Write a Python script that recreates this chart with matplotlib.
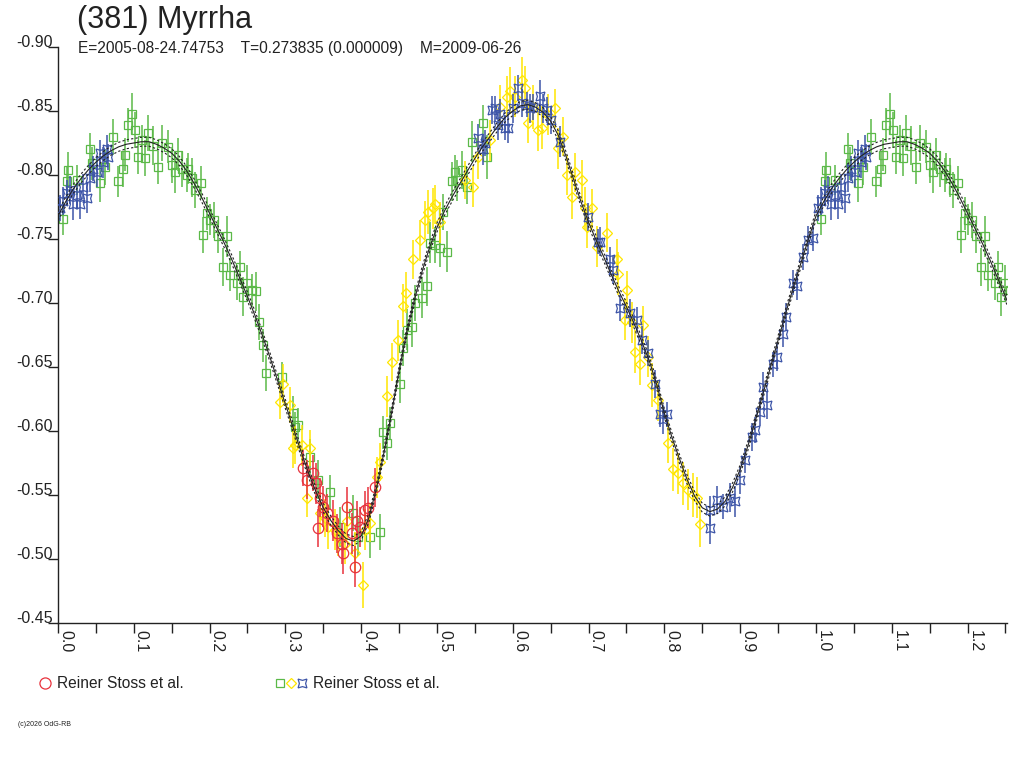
import numpy as np
import matplotlib
matplotlib.use("Agg")
import matplotlib.pyplot as plt

plt.rcParams['font.family'] = ['Liberation Sans', 'DejaVu Sans']

title = "(381) Myrrha"
subtitle = "E=2005-08-24.74753    T=0.273835 (0.000009)    M=2009-06-26"
legend_label = "Reiner Stoss et al."
credit = "(c)2026 OdG-RB"

x_ticks = [0.0, 0.1, 0.2, 0.3, 0.4, 0.5, 0.6, 0.7, 0.8, 0.9, 1.0, 1.1, 1.2]
x_labels = ["0.0", "0.1", "0.2", "0.3", "0.4", "0.5", "0.6", "0.7", "0.8", "0.9", "1.0", "1.1", "1.2"]
y_ticks = [-0.90, -0.85, -0.80, -0.75, -0.70, -0.65, -0.60, -0.55, -0.50, -0.45]
y_labels = ["-0.90", "-0.85", "-0.80", "-0.75", "-0.70", "-0.65", "-0.60", "-0.55", "-0.50", "-0.45"]

# fitted curve, phase 0.00 .. 1.00 step 0.01
fit_mag = [
    -0.768, -0.779, -0.789, -0.797, -0.804, -0.810, -0.815, -0.819, -0.822, -0.824,
    -0.825, -0.826, -0.826, -0.824, -0.821, -0.817, -0.811, -0.803, -0.793, -0.782,
    -0.770, -0.758, -0.746, -0.733, -0.719, -0.705, -0.690, -0.674, -0.657, -0.639,
    -0.621, -0.603, -0.585, -0.568, -0.553, -0.540, -0.530, -0.522, -0.516, -0.514,
    -0.518, -0.532, -0.555, -0.583, -0.614, -0.647, -0.677, -0.702, -0.724, -0.743,
    -0.759, -0.772, -0.783, -0.793, -0.803, -0.813, -0.822, -0.830, -0.838, -0.845,
    -0.850, -0.854, -0.855, -0.853, -0.849, -0.842, -0.831, -0.815, -0.797, -0.779,
    -0.763, -0.749, -0.736, -0.722, -0.709, -0.697, -0.684, -0.670, -0.655, -0.636,
    -0.614, -0.595, -0.578, -0.562, -0.549, -0.540, -0.537, -0.539, -0.545, -0.556,
    -0.570, -0.588, -0.608, -0.629, -0.650, -0.671, -0.692, -0.712, -0.731, -0.750,
    -0.768,
]

# (phase, reduced mag, error)
green_obs = [
    (0.007, -0.766, .013), (0.012, -0.795, .012), (0.013, -0.804, .014), (0.025, -0.796, .012),
    (0.042, -0.820, .013), (0.045, -0.809, .013), (0.055, -0.794, .015), (0.062, -0.806, .014),
    (0.073, -0.830, .014), (0.079, -0.795, .012), (0.086, -0.805, .014), (0.088, -0.816, .013),
    (0.092, -0.839, .013), (0.098, -0.848, .016), (0.102, -0.835, .014), (0.106, -0.814, .013),
    (0.111, -0.827, .012), (0.115, -0.813, .014), (0.119, -0.833, .014), (0.125, -0.823, .015),
    (0.132, -0.806, .013), (0.137, -0.825, .014), (0.145, -0.822, .013), (0.150, -0.808, .014),
    (0.154, -0.802, .016), (0.158, -0.816, .013), (0.163, -0.805, .014), (0.170, -0.800, .013),
    (0.172, -0.805, .012), (0.177, -0.798, .015), (0.181, -0.788, .014), (0.188, -0.794, .013),
    (0.191, -0.753, .014), (0.196, -0.770, .013), (0.200, -0.765, .012), (0.206, -0.765, .014),
    (0.211, -0.752, .013), (0.218, -0.728, .015), (0.223, -0.752, .016), (0.227, -0.722, .013),
    (0.236, -0.716, .014), (0.240, -0.728, .013), (0.244, -0.705, .015), (0.249, -0.716, .014),
    (0.256, -0.710, .013), (0.261, -0.709, .015), (0.265, -0.685, .014), (0.270, -0.667, .013),
    (0.275, -0.645, .014), (0.295, -0.642, .012), (0.310, -0.614, .013), (0.313, -0.603, .012),
    (0.317, -0.605, .013), (0.332, -0.580, .014), (0.343, -0.562, .015), (0.359, -0.552, .014),
    (0.372, -0.525, .016), (0.389, -0.536, .014), (0.396, -0.517, .015), (0.412, -0.517, .016),
    (0.425, -0.521, .014), (0.429, -0.599, .013), (0.434, -0.591, .014), (0.438, -0.606, .013),
    (0.451, -0.637, .015), (0.455, -0.665, .014), (0.460, -0.679, .016), (0.467, -0.681, .015),
    (0.471, -0.700, .014), (0.480, -0.704, .016), (0.487, -0.713, .015), (0.491, -0.747, .016),
    (0.497, -0.745, .014), (0.504, -0.743, .015), (0.508, -0.771, .014), (0.513, -0.740, .016),
    (0.520, -0.795, .015), (0.524, -0.802, .014), (0.526, -0.796, .016), (0.533, -0.804, .015),
    (0.539, -0.791, .014), (0.546, -0.826, .016), (0.561, -0.841, .014), (0.566, -0.814, .017),
]

yellow_obs = [
    (0.293, -0.623, .014), (0.297, -0.637, .015), (0.306, -0.620, .014), (0.310, -0.587, .016),
    (0.313, -0.589, .015), (0.322, -0.589, .016), (0.328, -0.548, .015), (0.332, -0.587, .014),
    (0.346, -0.536, .016), (0.352, -0.532, .015), (0.356, -0.525, .017), (0.365, -0.523, .016),
    (0.369, -0.517, .015), (0.379, -0.512, .016), (0.381, -0.530, .015), (0.392, -0.505, .016),
    (0.402, -0.480, .018), (0.405, -0.523, .016), (0.412, -0.528, .015), (0.421, -0.564, .016),
    (0.425, -0.576, .015), (0.434, -0.627, .016), (0.441, -0.654, .015), (0.449, -0.671, .016),
    (0.455, -0.698, .017), (0.459, -0.708, .016), (0.469, -0.734, .015), (0.478, -0.749, .016),
    (0.484, -0.765, .015), (0.488, -0.771, .017), (0.495, -0.774, .016), (0.497, -0.777, .015),
    (0.504, -0.763, .016), (0.537, -0.796, .015), (0.548, -0.791, .016), (0.554, -0.814, .017),
    (0.570, -0.827, .016), (0.583, -0.853, .017), (0.592, -0.861, .016), (0.596, -0.866, .018),
    (0.603, -0.861, .016), (0.612, -0.874, .018), (0.616, -0.868, .017), (0.620, -0.841, .016),
    (0.627, -0.853, .017), (0.633, -0.835, .016), (0.638, -0.837, .017), (0.646, -0.847, .016),
    (0.656, -0.852, .015), (0.660, -0.821, .016), (0.666, -0.830, .015), (0.671, -0.800, .016),
    (0.678, -0.783, .017), (0.682, -0.802, .015), (0.691, -0.796, .016), (0.695, -0.774, .017),
    (0.698, -0.759, .016), (0.704, -0.774, .015), (0.711, -0.744, .016), (0.724, -0.755, .015),
    (0.737, -0.734, .016), (0.739, -0.723, .017), (0.748, -0.687, .016), (0.751, -0.710, .015),
    (0.757, -0.685, .016), (0.761, -0.662, .017), (0.768, -0.652, .016), (0.772, -0.683, .015),
    (0.778, -0.658, .016), (0.784, -0.636, .017), (0.792, -0.624, .016), (0.805, -0.591, .016),
    (0.811, -0.570, .017), (0.818, -0.567, .016), (0.825, -0.559, .017), (0.831, -0.554, .016),
    (0.838, -0.550, .017), (0.843, -0.548, .016), (0.847, -0.527, .018),
]

blue_obs = [
    (0.003, -0.774, .010), (0.007, -0.780, .011), (0.012, -0.786, .010), (0.016, -0.788, .011),
    (0.020, -0.777, .012), (0.025, -0.784, .010), (0.029, -0.777, .011), (0.033, -0.791, .010),
    (0.038, -0.782, .012), (0.042, -0.798, .011), (0.046, -0.805, .010), (0.051, -0.802, .011),
    (0.055, -0.817, .010), (0.059, -0.810, .012), (0.065, -0.820, .011), (0.066, -0.814, .010),
    (0.554, -0.829, .011), (0.561, -0.820, .012), (0.563, -0.825, .010), (0.572, -0.851, .011),
    (0.577, -0.852, .010), (0.581, -0.839, .012), (0.583, -0.848, .011), (0.590, -0.837, .010),
    (0.594, -0.837, .012), (0.600, -0.852, .011), (0.607, -0.868, .010), (0.612, -0.856, .011),
    (0.619, -0.855, .010), (0.623, -0.852, .011), (0.627, -0.853, .010), (0.636, -0.862, .012),
    (0.640, -0.852, .011), (0.645, -0.851, .010), (0.651, -0.843, .011), (0.662, -0.826, .012),
    (0.699, -0.767, .011), (0.712, -0.748, .010), (0.715, -0.748, .011), (0.728, -0.734, .010),
    (0.732, -0.726, .011), (0.741, -0.696, .010), (0.755, -0.692, .011), (0.764, -0.687, .010),
    (0.770, -0.671, .011), (0.778, -0.661, .010), (0.788, -0.637, .011), (0.794, -0.613, .010),
    (0.798, -0.609, .011), (0.803, -0.613, .010), (0.860, -0.538, .011), (0.860, -0.524, .012),
    (0.869, -0.546, .011), (0.877, -0.541, .010), (0.887, -0.548, .011), (0.893, -0.545, .012),
    (0.900, -0.562, .011), (0.906, -0.577, .010), (0.916, -0.595, .011), (0.920, -0.601, .010),
    (0.926, -0.615, .011), (0.930, -0.634, .012), (0.935, -0.620, .011), (0.943, -0.652, .010),
    (0.948, -0.658, .011), (0.957, -0.676, .010), (0.961, -0.689, .011), (0.970, -0.716, .010),
    (0.975, -0.713, .011), (0.983, -0.736, .010), (0.990, -0.749, .011), (0.996, -0.751, .010),
]

red_obs = [
    (0.323, -0.571, .014), (0.328, -0.562, .015), (0.336, -0.567, .014), (0.341, -0.559, .016),
    (0.343, -0.524, .015), (0.346, -0.548, .015), (0.350, -0.541, .016), (0.355, -0.536, .015),
    (0.363, -0.530, .016), (0.368, -0.520, .015), (0.375, -0.512, .016), (0.376, -0.505, .017),
    (0.381, -0.541, .015), (0.388, -0.520, .016), (0.392, -0.494, .016), (0.394, -0.530, .015),
    (0.398, -0.525, .016), (0.405, -0.538, .015), (0.409, -0.540, .016), (0.418, -0.556, .015),
]

GREEN = "#5bb948"
YELLOW = "#ffe600"
BLUE = "#3d55a8"
RED = "#e8323c"
INK = "#222222"

X_MAX = 1.252


def wrapped(points):
    # phases below X_MAX - 1 are shown a second time one cycle later
    pts = list(points) + [(p + 1.0, m, e) for p, m, e in points if p + 1.0 <= X_MAX + 0.01]
    ph = np.array([p[0] for p in pts])
    mag = np.array([p[1] for p in pts])
    err = np.array([p[2] for p in pts])
    return ph, mag, err


fig = plt.figure(figsize=(10.24, 7.68), dpi=100)
ax = fig.add_axes([58 / 1024, 1 - 623 / 768, (1007 - 58) / 1024, (623 - 47) / 768])

series = [
    (green_obs, GREEN, "s", 6.0, 2),
    (yellow_obs, YELLOW, "D", 5.2, 3),
    (blue_obs, BLUE, (4, 1, 45), 9.0, 4),
    (red_obs, RED, "o", 7.5, 5),
]
for obs, col, mk, ms, z in series:
    ph, mag, err = wrapped(obs)
    ax.errorbar(ph, mag, yerr=err, fmt="none", ecolor=col, elinewidth=1.1,
                capsize=0, zorder=z)
    ax.plot(ph, mag, linestyle="none", marker=mk, markersize=ms,
            markerfacecolor="none", markeredgecolor=col, markeredgewidth=0.9,
            zorder=z)

fit_phase = np.linspace(0.0, 1.0, len(fit_mag))
fit_mag_arr = np.array(fit_mag)
ext = fit_phase <= X_MAX - 1.0 + 0.02
curve_ph = np.concatenate([fit_phase, fit_phase[ext][1:] + 1.0])
curve_mag = np.concatenate([fit_mag_arr, fit_mag_arr[ext][1:]])

ax.plot(curve_ph, curve_mag, color=INK, lw=0.8, zorder=7)
for off in (-0.0035, 0.0035):
    ax.plot(curve_ph, curve_mag + off, color=INK, lw=0.8, dashes=(2, 2), zorder=7)

ax.set_xlim(0, X_MAX)
ax.set_ylim(-0.45, -0.90)
ax.patch.set_alpha(0)
for side in ("top", "right"):
    ax.spines[side].set_visible(False)
for side in ("left", "bottom"):
    ax.spines[side].set_color(INK)
    ax.spines[side].set_linewidth(1.0)

ax.set_xticks(x_ticks)
ax.set_xticklabels(x_labels, rotation=-90, ha="left", va="top", fontsize=11.5, color=INK)
ax.set_xticks(np.array(x_ticks) + 0.05, minor=True)
ax.tick_params(axis="x", which="both", direction="out", length=7, width=1.0,
               color=INK, pad=-2)
ax.set_yticks(y_ticks)
ax.set_yticklabels(y_labels, va="baseline", fontsize=11.5, color=INK)
ax.tick_params(axis="y", direction="out", length=7, width=1.0, color=INK, pad=-3)

# header, legend and credit in pixel coordinates
lay = fig.add_axes([0, 0, 1, 1], zorder=10)
lay.set_xlim(0, 1024)
lay.set_ylim(768, 0)
lay.axis("off")

lay.text(77, 20, title, fontsize=22, color=INK, va="center", ha="left")
lay.text(78, 48, subtitle, fontsize=11.2, color=INK, va="center", ha="left")

lay.plot([45], [683], marker="o", markersize=8, markerfacecolor="none",
         markeredgecolor=RED, markeredgewidth=0.9, linestyle="none")
lay.text(57, 683, legend_label, fontsize=11.2, color=INK, va="center", ha="left")
lay.plot([280], [683], marker="s", markersize=6, markerfacecolor="none",
         markeredgecolor=GREEN, markeredgewidth=0.9, linestyle="none")
lay.plot([291], [683], marker="D", markersize=5.5, markerfacecolor="none",
         markeredgecolor=YELLOW, markeredgewidth=0.9, linestyle="none")
lay.plot([302], [683], marker=(4, 1, 45), markersize=9, markerfacecolor="none",
         markeredgecolor=BLUE, markeredgewidth=0.9, linestyle="none")
lay.text(313, 683, legend_label, fontsize=11.2, color=INK, va="center", ha="left")

lay.text(18, 724, credit, fontsize=5, color=INK, va="center", ha="left")

fig.savefig("out.png", dpi=100)
